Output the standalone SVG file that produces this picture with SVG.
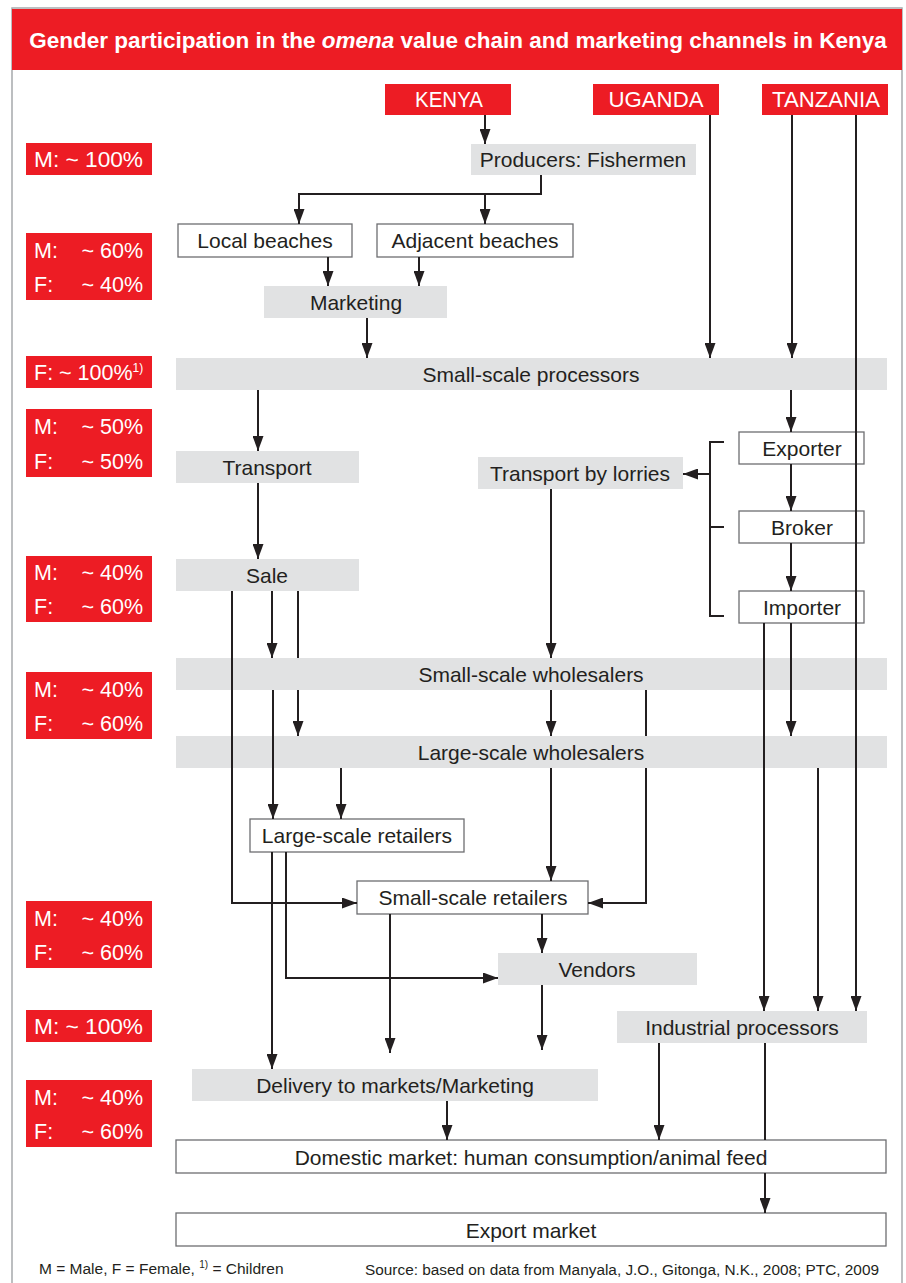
<svg xmlns="http://www.w3.org/2000/svg" width="906" height="1283" viewBox="0 0 906 1283">
<style>
.t{font-family:"Liberation Sans",Arial,sans-serif;font-size:21px;fill:#231f20;text-anchor:middle}
.g{fill:#e1e2e3}
.w{fill:#fff;stroke:#6d6e71;stroke-width:1.3}
.r{fill:#ed1c24}
.lt{font-family:"Liberation Sans",Arial,sans-serif;font-size:21.5px;fill:#fff}
.ct{font-family:"Liberation Sans Narrow","Liberation Sans",Arial,sans-serif;font-size:22px;fill:#fff;text-anchor:middle}
.tt{font-family:"Liberation Sans",Arial,sans-serif;font-size:22.5px;font-weight:bold;fill:#fff;text-anchor:middle}
.c{stroke:#231f20;stroke-width:2;fill:none}
.a{marker-end:url(#ah)}
.f{font-family:"Liberation Sans",Arial,sans-serif;font-size:15.5px;fill:#231f20}
</style>
<defs>
<marker id="ah" viewBox="0 0 15 11" refX="15" refY="5.5" markerWidth="15" markerHeight="11" markerUnits="userSpaceOnUse" orient="auto"><path d="M0,0L15,5.5L0,11z" fill="#231f20"/></marker>
</defs>
<rect x="0" y="0" width="906" height="1283" fill="#fff"/>
<rect x="12" y="8" width="890" height="1290" fill="none" stroke="#a7a9ac" stroke-width="1.5"/>
<g id="title">
<rect class="r" x="12" y="9" width="890" height="61"/>
<text class="tt" x="458" y="48">Gender participation in the <tspan font-style="italic">omena</tspan> value chain and marketing channels in Kenya</text>
</g>
<g id="kenya"><rect class="r" x="385" y="84" width="126" height="31"/><text class="ct" x="449" y="107" textLength="68" lengthAdjust="spacingAndGlyphs">KENYA</text></g>
<g id="uganda"><rect class="r" x="593" y="84" width="126" height="31"/><text class="ct" x="656" y="107" textLength="95" lengthAdjust="spacingAndGlyphs">UGANDA</text></g>
<g id="tanzania"><rect class="r" x="762" y="84" width="126" height="31"/><text class="ct" x="826" y="107" textLength="108" lengthAdjust="spacingAndGlyphs">TANZANIA</text></g>

<g id="label1"><rect class="r" x="26" y="143" width="126" height="32"/><text class="lt" x="34" y="167" textLength="109" lengthAdjust="spacingAndGlyphs">M: ~ 100%</text></g>
<g id="label2"><rect class="r" x="26" y="233" width="126" height="67"/><text class="lt" x="34" y="258">M:</text><text class="lt" x="143" y="258" text-anchor="end">~ 60%</text><text class="lt" x="34" y="292">F:</text><text class="lt" x="143" y="292" text-anchor="end">~ 40%</text></g>
<g id="label3"><rect class="r" x="26" y="356" width="126" height="32"/><text class="lt" x="34" y="380">F: ~ 100%<tspan font-size="12" dy="-8">1)</tspan></text></g>
<g id="label4"><rect class="r" x="26" y="409" width="126" height="68"/><text class="lt" x="34" y="434">M:</text><text class="lt" x="143" y="434" text-anchor="end">~ 50%</text><text class="lt" x="34" y="469">F:</text><text class="lt" x="143" y="469" text-anchor="end">~ 50%</text></g>
<g id="label5"><rect class="r" x="26" y="556" width="126" height="66"/><text class="lt" x="34" y="580">M:</text><text class="lt" x="143" y="580" text-anchor="end">~ 40%</text><text class="lt" x="34" y="614">F:</text><text class="lt" x="143" y="614" text-anchor="end">~ 60%</text></g>
<g id="label6"><rect class="r" x="26" y="672" width="126" height="67"/><text class="lt" x="34" y="697">M:</text><text class="lt" x="143" y="697" text-anchor="end">~ 40%</text><text class="lt" x="34" y="731">F:</text><text class="lt" x="143" y="731" text-anchor="end">~ 60%</text></g>
<g id="label7"><rect class="r" x="26" y="901" width="126" height="67"/><text class="lt" x="34" y="926">M:</text><text class="lt" x="143" y="926" text-anchor="end">~ 40%</text><text class="lt" x="34" y="960">F:</text><text class="lt" x="143" y="960" text-anchor="end">~ 60%</text></g>
<g id="label8"><rect class="r" x="26" y="1010" width="126" height="32"/><text class="lt" x="34" y="1034" textLength="109" lengthAdjust="spacingAndGlyphs">M: ~ 100%</text></g>
<g id="label9"><rect class="r" x="26" y="1080" width="126" height="67"/><text class="lt" x="34" y="1105">M:</text><text class="lt" x="143" y="1105" text-anchor="end">~ 40%</text><text class="lt" x="34" y="1139">F:</text><text class="lt" x="143" y="1139" text-anchor="end">~ 60%</text></g>

<g id="producers"><rect class="g" x="471" y="144" width="225" height="31"/><text class="t" x="583" y="167">Producers: Fishermen</text></g>
<g id="local-beaches"><rect class="w" x="178" y="224" width="174" height="33"/><text class="t" x="265" y="248">Local beaches</text></g>
<g id="adjacent-beaches"><rect class="w" x="377" y="224" width="196" height="33"/><text class="t" x="475" y="248">Adjacent beaches</text></g>
<g id="marketing"><rect class="g" x="264" y="286" width="183" height="32"/><text class="t" x="356" y="310">Marketing</text></g>
<g id="small-processors"><rect class="g" x="176" y="358" width="711" height="32"/><text class="t" x="531" y="382">Small-scale processors</text></g>
<g id="transport"><rect class="g" x="176" y="451" width="183" height="32"/><text class="t" x="267" y="475">Transport</text></g>
<g id="lorries"><rect class="g" x="478" y="457" width="205" height="32"/><text class="t" x="580" y="481">Transport by lorries</text></g>
<g id="exporter"><rect class="w" x="739" y="432" width="125" height="32"/><text class="t" x="802" y="456">Exporter</text></g>
<g id="broker"><rect class="w" x="739" y="511" width="125" height="32"/><text class="t" x="802" y="535">Broker</text></g>
<g id="importer"><rect class="w" x="739" y="591" width="125" height="32"/><text class="t" x="802" y="615">Importer</text></g>
<g id="sale"><rect class="g" x="176" y="559" width="183" height="32"/><text class="t" x="267" y="583">Sale</text></g>
<g id="small-wholesalers"><rect class="g" x="176" y="658" width="711" height="32"/><text class="t" x="531" y="682">Small-scale wholesalers</text></g>
<g id="large-wholesalers"><rect class="g" x="176" y="736" width="711" height="32"/><text class="t" x="531" y="760">Large-scale wholesalers</text></g>
<g id="large-retailers"><rect class="w" x="250" y="819" width="214" height="33"/><text class="t" x="357" y="843">Large-scale retailers</text></g>
<g id="small-retailers"><rect class="w" x="357" y="881" width="231" height="33"/><text class="t" x="473" y="905">Small-scale retailers</text></g>
<g id="vendors"><rect class="g" x="498" y="953" width="199" height="32"/><text class="t" x="597" y="977">Vendors</text></g>
<g id="industrial"><rect class="g" x="617" y="1011" width="250" height="32"/><text class="t" x="742" y="1035">Industrial processors</text></g>
<g id="delivery"><rect class="g" x="192" y="1069" width="406" height="32"/><text class="t" x="395" y="1093">Delivery to markets/Marketing</text></g>
<g id="domestic"><rect class="w" x="176" y="1140" width="710" height="33"/><text class="t" x="531" y="1165">Domestic market: human consumption/animal feed</text></g>
<g id="export"><rect class="w" x="176" y="1213" width="710" height="33"/><text class="t" x="531" y="1238">Export market</text></g>

<g id="connectors">
<path class="c a" d="M485,115V144"/>
<path class="c a" d="M541,175V194H299V224"/>
<path class="c a" d="M485,194V224"/>
<path class="c a" d="M328,257V286"/>
<path class="c a" d="M419,257V286"/>
<path class="c a" d="M367,318V358"/>
<path class="c a" d="M710,115V358"/>
<path class="c a" d="M792,115V358"/>
<path class="c a" d="M856,115V1011"/>
<path class="c a" d="M258,390V451"/>
<path class="c a" d="M791,390V432"/>
<path class="c a" d="M791,464V511"/>
<path class="c a" d="M791,543V591"/>
<path class="c" d="M724,442H710V616H724M710,527H724"/>
<path class="c a" d="M710,474H683"/>
<path class="c a" d="M258,483V559"/>
<path class="c a" d="M551,489V658"/>
<path class="c a" d="M232,591V903H357"/>
<path class="c a" d="M272,591V658"/>
<path class="c" d="M298,591V658"/>
<path class="c a" d="M298,690V736"/>
<path class="c a" d="M273,690V819"/>
<path class="c a" d="M341,768V819"/>
<path class="c a" d="M551,690V736"/>
<path class="c a" d="M551,768V881"/>
<path class="c" d="M646,690V736"/>
<path class="c a" d="M646,768V903H588"/>
<path class="c a" d="M791,623V736"/>
<path class="c a" d="M764,623V1011"/>
<path class="c a" d="M818,768V1011"/>
<path class="c a" d="M272,852V1069"/>
<path class="c a" d="M286,852V978H498"/>
<path class="c a" d="M390,914V1053"/>
<path class="c a" d="M542,914V953"/>
<path class="c a" d="M542,985V1050"/>
<path class="c a" d="M447,1101V1140"/>
<path class="c a" d="M659,1043V1140"/>
<path class="c" d="M765,1043V1140"/>
<path class="c a" d="M765,1173V1213"/>
</g>

<g id="footer">
<text class="f" x="39" y="1274">M = Male, F = Female, <tspan font-size="10" dy="-6">1)</tspan><tspan dy="6"> = Children</tspan></text>
<text class="f" x="365" y="1275" textLength="514" lengthAdjust="spacingAndGlyphs">Source: based on data from Manyala, J.O., Gitonga, N.K., 2008; PTC, 2009</text>
</g>
</svg>
